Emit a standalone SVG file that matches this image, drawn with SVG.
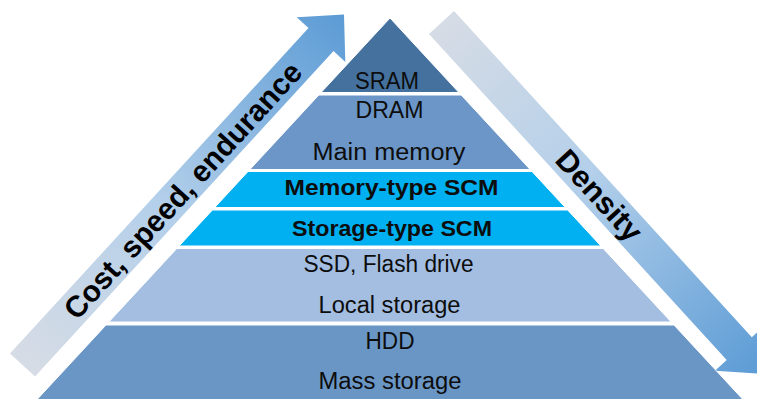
<svg xmlns="http://www.w3.org/2000/svg" width="757" height="399" viewBox="0 0 757 399">
  <defs>
    <linearGradient id="arrowGrad" x1="0" y1="0" x2="1" y2="0">
      <stop offset="0" stop-color="#D6DCE5"/>
      <stop offset="0.45" stop-color="#B3CFEA"/>
      <stop offset="1" stop-color="#5B9BD5"/>
    </linearGradient>
    <style>
      .band { stroke: #FFFFFF; stroke-width: 1; }
      .lbl { font-family: "Liberation Sans", Arial, sans-serif; font-size: 23px; fill: #0D0D0D; text-anchor: middle; }
      .lblb { font-family: "Liberation Sans", Arial, sans-serif; font-size: 22px; font-weight: bold; fill: #0D0D0D; text-anchor: middle; }
      .arrowtxt { font-family: "Liberation Sans", Arial, sans-serif; font-size: 30px; font-weight: bold; fill: #000000; text-anchor: middle; }
    </style>
  </defs>
  <rect x="0" y="0" width="757" height="399" fill="#FFFFFF"/>

  <g id="connectors">
    <g id="arrow-cost" transform="translate(22.5,365) rotate(-47.47)">
      <polygon points="0,-17 441.6,-17 441.6,-33 475.6,0 441.6,33 441.6,17 0,17" fill="url(#arrowGrad)"/>
      <text class="arrowtxt" x="237" y="10.5" textLength="336" lengthAdjust="spacingAndGlyphs">Cost, speed, endurance</text>
    </g>
    <g id="arrow-density" transform="translate(441.5,22.5) rotate(47.6)">
      <polygon points="0,-17 441.6,-17 441.6,-33 475.6,0 441.6,33 441.6,17 0,17" fill="url(#arrowGrad)"/>
      <text class="arrowtxt" x="234" y="10.5" textLength="112" lengthAdjust="spacingAndGlyphs">Density</text>
    </g>
  </g>

  <g id="sram">
    <polygon class="band" points="390,18 458.9,92.5 321.1,92.5" fill="#44719E"/>
    <text class="lbl" x="387" y="89.3" textLength="64" lengthAdjust="spacingAndGlyphs">SRAM</text>
  </g>
  <g id="dram">
    <polygon class="band" points="318.8,95 461.2,95 530.1,169.5 249.9,169.5" fill="#6B96C7"/>
    <text class="lbl" x="389.5" y="118.3" textLength="68" lengthAdjust="spacingAndGlyphs">DRAM</text>
    <text class="lbl" x="389" y="160" textLength="153" lengthAdjust="spacingAndGlyphs">Main memory</text>
  </g>
  <g id="memory-scm">
    <polygon class="band" points="248,171.5 532,171.5 565.3,207.5 214.7,207.5" fill="#00B0F0"/>
    <text class="lblb" x="391.5" y="195" textLength="214" lengthAdjust="spacingAndGlyphs">Memory-type SCM</text>
  </g>
  <g id="storage-scm">
    <polygon class="band" points="212.4,210 567.6,210 600.9,246 179.1,246" fill="#00B0F0"/>
    <text class="lblb" x="392" y="236" textLength="200" lengthAdjust="spacingAndGlyphs">Storage-type SCM</text>
  </g>
  <g id="ssd">
    <polygon class="band" points="176.8,248.5 603.2,248.5 671.2,322 108.8,322" fill="#A3BEE1"/>
    <text class="lbl" x="388.5" y="272.3" textLength="170" lengthAdjust="spacingAndGlyphs">SSD, Flash drive</text>
    <text class="lbl" x="389.5" y="312.7" textLength="142" lengthAdjust="spacingAndGlyphs">Local storage</text>
  </g>
  <g id="hdd">
    <polygon class="band" points="106,325 674,325 743.4,400 36.6,400" fill="#6A96C6"/>
    <text class="lbl" x="390" y="349.3" textLength="49" lengthAdjust="spacingAndGlyphs">HDD</text>
    <text class="lbl" x="390" y="389" textLength="143" lengthAdjust="spacingAndGlyphs">Mass storage</text>
  </g>
</svg>
